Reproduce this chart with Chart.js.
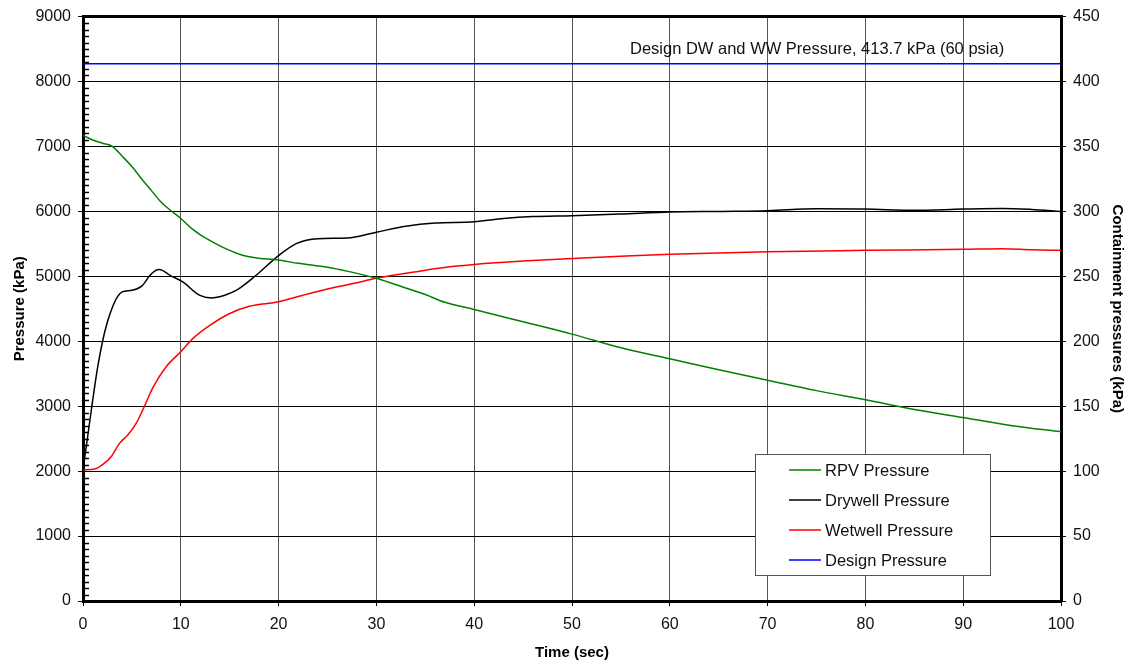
<!DOCTYPE html>
<html>
<head>
<meta charset="utf-8">
<script src="https://cdn.jsdelivr.net/npm/chart.js@4/dist/chart.umd.min.js"></script>
<style>
    html, body { margin: 0; padding: 0; background: #fff; }
    #wrap { width: 1130px; height: 665px; }
</style>
</head>
<body>
<div id="wrap"><canvas id="pressChart"></canvas></div>
<script>
// time (sec) / value pairs
const rpvTime = [0, 1, 2, 3, 4, 5, 6, 7, 8, 9, 10, 11, 12, 13, 14, 15, 16, 17, 18, 20, 22, 25, 27, 30, 32, 35, 37, 40, 45, 50, 55, 60, 65, 70, 75, 80, 85, 90, 95, 100];
const rpvPressure = [7170, 7100, 7050, 7000, 6850, 6690, 6500, 6320, 6140, 6010, 5890, 5750, 5640, 5550, 5470, 5400, 5340, 5300, 5280, 5250, 5200, 5140, 5080, 4970, 4870, 4720, 4600, 4490, 4300, 4110, 3900, 3730, 3560, 3400, 3240, 3100, 2950, 2825, 2700, 2605];

const dwTime = [0, 0.5, 1, 1.5, 2, 2.5, 3, 3.5, 4, 5, 6, 7, 7.8, 8.9, 10.2, 11.9, 13.1, 14.5, 15.7, 17.7, 19.9, 21.8, 24, 27, 30, 33, 36, 40, 43, 46, 50, 55, 60, 65, 70, 75, 80, 85, 90, 94, 97, 100];
const dwPressure = [101, 128, 155, 180, 200, 215, 226, 234, 238, 239.3, 242.5, 252, 255.2, 250.8, 245.7, 235.5, 233.4, 235.5, 239.3, 250.8, 265.4, 275.2, 279, 279.5, 284, 288.5, 291, 292, 294.5, 296, 296.7, 298, 299.5, 300, 300.5, 302, 301.8, 300.8, 301.8, 302.3, 301.5, 300];

const wwTime = [0, 1.2, 2, 2.9, 3.75, 4.6, 5.45, 6.1, 7.2, 8.5, 10, 11.25, 13, 15, 17, 20, 22.5, 25.2, 27.6, 30, 34.4, 37.5, 40, 45, 50, 55, 60, 70, 80, 90, 94, 97, 100];
const wwPressure = [101, 101.6, 105, 111.3, 121.6, 128, 137, 147, 165, 180.4, 192, 202.2, 212.4, 221.4, 227, 230.4, 235.5, 240.6, 244.4, 248.5, 254, 257.4, 259.2, 261.8, 263.8, 265.5, 267, 269, 270, 270.8, 271.3, 270.5, 270];

const designTime = [0, 100];
const designPressure = [413.7, 413.7];

const seriesLabels = ['RPV Pressure', 'Drywell Pressure', 'Wetwell Pressure', 'Design Pressure'];
const seriesColors = ['#008000', '#000000', '#ff0000', '#0000ff'];
const designNote = 'Design DW and WW Pressure, 413.7 kPa (60 psia)';

function pairs(xs, ys) {
    return xs.map((x, i) => ({ x: x, y: ys[i] }));
}

const FONT = "'Liberation Sans', Arial, sans-serif";
const plainNum = v => String(v); // no thousands separator

// thick frame, minor ticks on the left axis, note text and legend box
const extrasPlugin = {
    id: 'extras',
    afterDraw(chart) {
        const ctx = chart.ctx;
        const a = chart.chartArea;
        const yl = chart.scales.y;
        const y2 = chart.scales.y2;
        ctx.save();

        // minor ticks every 100 kPa
        ctx.strokeStyle = '#000';
        ctx.lineWidth = 1.5;
        for (let v = 100; v < 9000; v += 100) {
            if (v % 1000 === 0) continue;
            const py = Math.round(yl.getPixelForValue(v)) + 0.5;
            ctx.beginPath();
            ctx.moveTo(a.left, py);
            ctx.lineTo(a.left + 6, py);
            ctx.stroke();
        }

        // top border
        ctx.lineWidth = 3;
        ctx.beginPath();
        ctx.moveTo(a.left - 1, a.top);
        ctx.lineTo(a.right + 1, a.top);
        ctx.stroke();

        // note above the design line
        ctx.fillStyle = '#111';
        ctx.font = '16.5px ' + FONT;
        ctx.textAlign = 'left';
        ctx.textBaseline = 'alphabetic';
        ctx.fillText(designNote, 630, y2.getPixelForValue(designPressure[0]) - 10);

        // legend
        const bx = 755, by = 454, bw = 235, bh = 121;
        ctx.fillStyle = '#fff';
        ctx.fillRect(bx, by, bw, bh);
        ctx.strokeStyle = '#555';
        ctx.lineWidth = 1;
        ctx.strokeRect(bx + 0.5, by + 0.5, bw, bh);
        ctx.font = '16.5px ' + FONT;
        ctx.textBaseline = 'middle';
        seriesLabels.forEach((lab, i) => {
            const ly = by + 16 + i * 30;
            ctx.strokeStyle = seriesColors[i];
            ctx.lineWidth = 1.5;
            ctx.beginPath();
            ctx.moveTo(bx + 34, ly);
            ctx.lineTo(bx + 66, ly);
            ctx.stroke();
            ctx.fillStyle = '#111';
            ctx.fillText(lab, bx + 70, ly + 1);
        });
        ctx.restore();
    }
};

const chart = new Chart(document.getElementById('pressChart'), {
    type: 'line',
    data: {
        datasets: [
            { label: seriesLabels[0], data: pairs(rpvTime, rpvPressure), yAxisID: 'y', borderColor: seriesColors[0] },
            { label: seriesLabels[1], data: pairs(dwTime, dwPressure), yAxisID: 'y2', borderColor: seriesColors[1] },
            { label: seriesLabels[2], data: pairs(wwTime, wwPressure), yAxisID: 'y2', borderColor: seriesColors[2] },
            { label: seriesLabels[3], data: pairs(designTime, designPressure), yAxisID: 'y2', borderColor: seriesColors[3] }
        ]
    },
    options: {
        responsive: true,
        maintainAspectRatio: false,
        animation: false,
        layout: { padding: { top: 16, left: 0, right: 0, bottom: 0 } },
        elements: {
            point: { radius: 0 },
            line: { borderWidth: 1.5, fill: false, cubicInterpolationMode: 'monotone' }
        },
        plugins: {
            legend: { display: false },
            tooltip: { enabled: false }
        },
        scales: {
            x: {
                type: 'linear',
                min: 0,
                max: 100,
                ticks: { stepSize: 10, color: '#111', font: { family: FONT, size: 16 }, padding: 9, maxRotation: 0, callback: plainNum },
                grid: { color: '#555', lineWidth: 1, tickLength: 5, tickColor: '#000' },
                border: { display: true, color: '#000', width: 3 },
                title: { display: true, text: 'Time (sec)', color: '#000', font: { family: FONT, size: 15, weight: 'bold' }, padding: { top: 4, bottom: 3 } },
                afterFit(scale) { scale.height = 64; }
            },
            y: {
                position: 'left',
                min: 0,
                max: 9000,
                ticks: { stepSize: 1000, color: '#111', font: { family: FONT, size: 16 }, padding: 7, callback: plainNum },
                grid: { color: '#000', lineWidth: 1, tickLength: 5 },
                border: { display: true, color: '#000', width: 3 },
                title: { display: true, text: 'Pressure (kPa)', color: '#000', font: { family: FONT, size: 15, weight: 'bold' }, padding: { top: 11, bottom: 2 } },
                afterFit(scale) { scale.width = 83; }
            },
            y2: {
                position: 'right',
                min: 0,
                max: 450,
                ticks: { stepSize: 50, color: '#111', font: { family: FONT, size: 16 }, padding: 7, callback: plainNum },
                grid: { drawOnChartArea: false, tickLength: 5, color: '#000' },
                border: { display: true, color: '#000', width: 3 },
                title: { display: true, text: 'Containment pressures (kPa)', color: '#000', font: { family: FONT, size: 15, weight: 'bold' }, padding: { top: 4, bottom: 2 } },
                afterFit(scale) { scale.width = 69; }
            }
        }
    },
    plugins: [extrasPlugin]
});
</script>
</body>
</html>
